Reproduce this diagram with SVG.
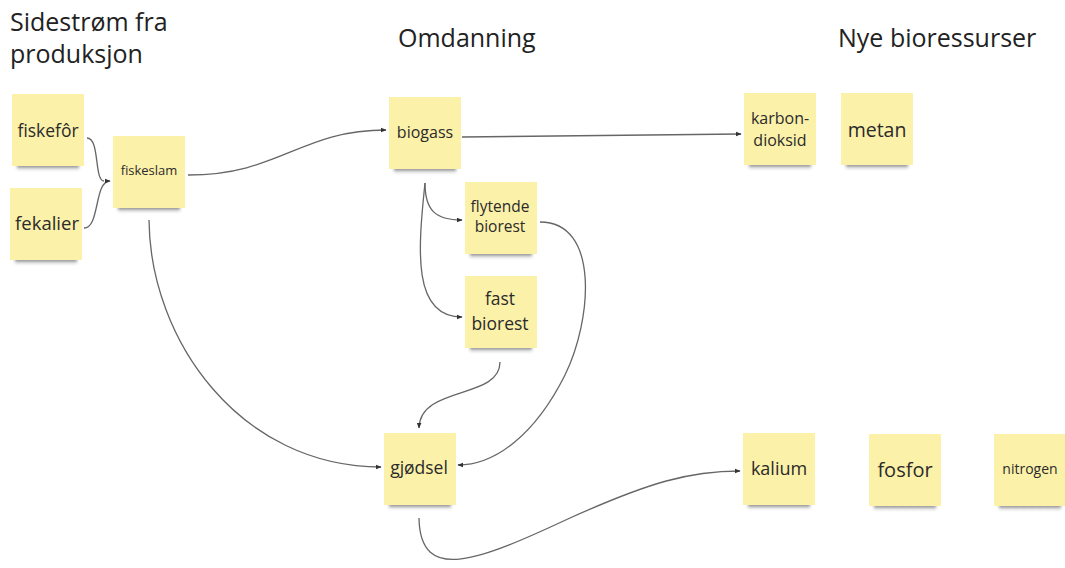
<svg xmlns="http://www.w3.org/2000/svg" width="1065" height="568" viewBox="0 0 1065 568">
  <style>
    .title { font-family: "Open Sans", "Liberation Sans", sans-serif; font-size: 25px; fill: #222; }
    .note { fill: #fbf1a9; }
    .label { font-family: "Open Sans", "Liberation Sans", sans-serif; fill: #2b2b2b; text-anchor: middle; }
    .edge { fill: none; stroke: #666; stroke-width: 1.3; marker-end: url(#arrow); }
    .plain { fill: none; stroke: #666; stroke-width: 1.3; }
  </style>
  <defs>
    <marker id="arrow" viewBox="0 0 10 10" refX="9" refY="5" markerWidth="6" markerHeight="6" orient="auto" markerUnits="userSpaceOnUse">
      <path d="M0,1 L10,5 L0,9 z" fill="#333"/>
    </marker>
    <linearGradient id="shade" x1="0" y1="0" x2="0" y2="1">
      <stop offset="0" stop-color="#333" stop-opacity="0.8"/>
      <stop offset="1" stop-color="#333" stop-opacity="0"/>
    </linearGradient>
    <filter id="soft" x="-20%" y="-50%" width="140%" height="200%">
      <feGaussianBlur stdDeviation="1.5"/>
    </filter>
    <g id="sticky">
      <rect x="5" y="70" width="62" height="6" fill="url(#shade)" filter="url(#soft)"/>
      <rect class="note" x="0" y="0" width="72" height="72"/>
    </g>
  </defs>

  <rect width="1065" height="568" fill="#ffffff"/>

  <!-- column headings -->
  <text class="title" x="10" y="31">Sidestrøm fra</text>
  <text class="title" x="10" y="63">produksjon</text>
  <text class="title" x="398" y="47">Omdanning</text>
  <text class="title" x="838" y="47">Nye bioressurser</text>

  <!-- connectors -->
  <g id="connectors">
    <path class="plain" d="M87,138 C100,138 94,181 104,181"/>
    <path class="edge" d="M84,228 C100,228 94,181 110,181"/>
    <path class="edge" d="M188,175 C280,175 300,130 386,130"/>
    <path class="edge" d="M462,137 L741,134"/>
    <path class="edge" d="M425,183 C425,210 435,220 462,220"/>
    <path class="edge" d="M425,183 C418,250 412,317 462,317"/>
    <path class="edge" d="M540,222 C600,222 592,320 565,375 C535,435 495,465 458,465"/>
    <path class="edge" d="M500,362 C500,400 420,385 419,428"/>
    <path class="edge" d="M149,220 C150,340 240,467 381,467"/>
    <path class="edge" d="M419,518 C420,585 480,560 570,518 C650,482 690,471 740,471"/>
  </g>

  <!-- notes -->
  <g id="fiskefor">
    <use href="#sticky" x="12" y="94"/>
    <text class="label" x="48" y="137" font-size="17.5">fiskefôr</text>
  </g>
  <g id="fekalier">
    <use href="#sticky" x="10" y="188"/>
    <text class="label" x="47" y="230" font-size="18.5">fekalier</text>
  </g>
  <g id="fiskeslam">
    <use href="#sticky" x="113" y="136"/>
    <text class="label" x="149" y="175" font-size="13">fiskeslam</text>
  </g>
  <g id="biogass">
    <use href="#sticky" x="389" y="97"/>
    <text class="label" x="425" y="138" font-size="16">biogass</text>
  </g>
  <g id="flytende-biorest">
    <use href="#sticky" x="465" y="182"/>
    <text class="label" x="500" y="212" font-size="15.5">flytende</text>
    <text class="label" x="500" y="232" font-size="15.5">biorest</text>
  </g>
  <g id="fast-biorest">
    <use href="#sticky" x="465" y="276"/>
    <text class="label" x="500" y="305" font-size="17.5">fast</text>
    <text class="label" x="500" y="330" font-size="17.5">biorest</text>
  </g>
  <g id="gjodsel">
    <use href="#sticky" x="384" y="433"/>
    <text class="label" x="419" y="474" font-size="17.5">gjødsel</text>
  </g>
  <g id="karbondioksid">
    <use href="#sticky" x="744" y="93"/>
    <text class="label" x="780" y="124" font-size="16">karbon-</text>
    <text class="label" x="780" y="146" font-size="16">dioksid</text>
  </g>
  <g id="metan">
    <use href="#sticky" x="841" y="93"/>
    <text class="label" x="877" y="137" font-size="19.5">metan</text>
  </g>
  <g id="kalium">
    <use href="#sticky" x="743" y="433"/>
    <text class="label" x="779" y="475" font-size="18">kalium</text>
  </g>
  <g id="fosfor">
    <use href="#sticky" x="869" y="434"/>
    <text class="label" x="905" y="477" font-size="20">fosfor</text>
  </g>
  <g id="nitrogen">
    <use href="#sticky" x="994" y="434"/>
    <text class="label" x="1030" y="474" font-size="14">nitrogen</text>
  </g>
</svg>
